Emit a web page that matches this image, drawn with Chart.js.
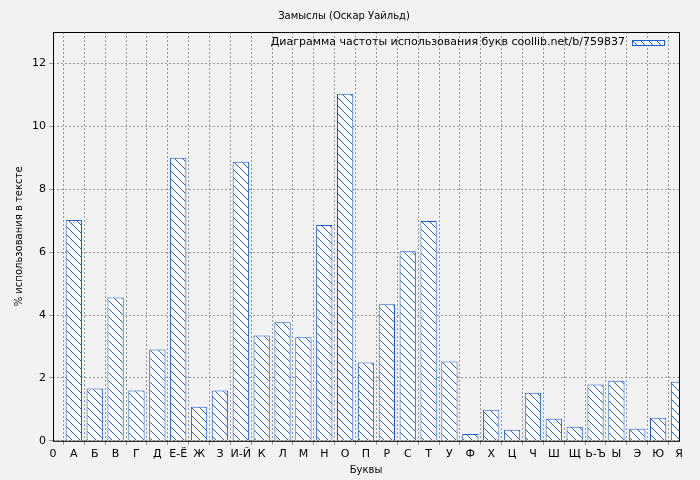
<!DOCTYPE html>
<html>
<head>
<meta charset="utf-8">
<script src="https://cdn.jsdelivr.net/npm/chart.js@4/dist/chart.umd.min.js"></script>
<style>
  html, body { margin: 0; background: #f2f2f2; }
  #wrap { width: 700px; height: 480px; }
</style>
</head>
<body>
<div id="wrap"><canvas id="chart" width="700" height="480"></canvas></div>
<script>
const letters = ['0', 'А', 'Б', 'В', 'Г', 'Д', 'Е-Ё', 'Ж', 'З', 'И-Й', 'К', 'Л', 'М', 'Н', 'О', 'П',
  'Р', 'С', 'Т', 'У', 'Ф', 'Х', 'Ц', 'Ч', 'Ш', 'Щ', 'Ь-Ъ', 'Ы', 'Э', 'Ю', 'Я'];
const percents = [null, 7.02, 1.66, 4.56, 1.6, 2.9, 9.0, 1.08, 1.6, 8.87, 3.35, 3.77, 3.29, 6.86, 11.04, 2.49,
  4.34, 6.03, 6.99, 2.52, 0.22, 0.99, 0.35, 1.53, 0.7, 0.45, 1.79, 1.91, 0.38, 0.73, 1.88];
const yTicks = [0, 2, 4, 6, 8, 10, 12];
const legendText = 'Диаграмма частоты использования букв coollib.net/b/759837';

// hatch pattern
function makeHatch() {
  const c = document.createElement('canvas');
  c.width = 8; c.height = 8;
  const g = c.getContext('2d');
  g.fillStyle = '#ffffff';
  g.fillRect(0, 0, 8, 8);
  g.strokeStyle = '#1f5fcf';
  g.lineWidth = 1;
  g.beginPath();
  g.moveTo(0, 0); g.lineTo(8, 8);
  g.moveTo(-1, 7); g.lineTo(1, 9);
  g.moveTo(7, -1); g.lineTo(9, 1);
  g.stroke();
  return g.createPattern(c, 'repeat');
}
const hatch = makeHatch();

const bgPlugin = {
  id: 'bg',
  beforeDraw(chart) {
    const { ctx } = chart;
    ctx.save();
    ctx.fillStyle = '#f2f2f2';
    ctx.fillRect(0, 0, chart.width, chart.height);
    ctx.restore();
  },
  afterDraw(chart) {
    const { ctx, chartArea: a } = chart;
    ctx.save();
    ctx.strokeStyle = '#000';
    ctx.lineWidth = 1;
    ctx.strokeRect(a.left + 0.5, a.top + 0.5, a.right - a.left, a.bottom - a.top);
    // legend
    ctx.font = '11px "DejaVu Sans"';
    ctx.fillStyle = '#000';
    ctx.textAlign = 'right';
    ctx.textBaseline = 'middle';
    ctx.fillText(legendText, a.right - 54, a.top + 10);
    ctx.fillStyle = hatch;
    ctx.fillRect(a.right - 47, a.top + 8, 32, 5);
    ctx.strokeStyle = '#1f5fcf';
    ctx.strokeRect(a.right - 47 + 0.5, a.top + 8 + 0.5, 32, 5);
    ctx.restore();
  }
};

new Chart(document.getElementById('chart'), {
  type: 'bar',
  data: {
    labels: letters,
    datasets: [{
      data: percents,
      backgroundColor: hatch,
      borderColor: '#1f5fcf',
      borderWidth: 1,
      barPercentage: 0.78,
      categoryPercentage: 1
    }]
  },
  options: {
    responsive: false,
    animation: false,
    layout: { padding: { left: 9, right: 21, top: 0, bottom: 4 } },
    plugins: {
      legend: { display: false },
      tooltip: { enabled: false },
      title: {
        display: true,
        text: 'Замыслы (Оскар Уайльд)',
        color: '#000',
        font: { family: 'DejaVu Sans', size: 10, weight: 'normal' },
        padding: { top: 10, bottom: 10 }
      }
    },
    scales: {
      x: {
        offset: false,
        grid: { color: '#999', tickLength: 4 },
        border: { display: false, dash: [2, 2] },
        ticks: { color: '#000', maxRotation: 0, autoSkip: false, font: { family: 'DejaVu Sans', size: 11 } },
        title: { display: true, text: 'Буквы', color: '#000', font: { family: 'DejaVu Sans', size: 10 }, padding: 0 }
      },
      y: {
        min: 0,
        max: 13,
        afterBuildTicks(axis) { axis.ticks = yTicks.map(v => ({ value: v })); },
        grid: { color: '#999', tickLength: 4 },
        border: { display: false, dash: [2, 2] },
        ticks: { color: '#000', font: { family: 'DejaVu Sans', size: 11 } },
        title: { display: true, text: '% использования в тексте', color: '#000', font: { family: 'DejaVu Sans', size: 10 } }
      }
    }
  },
  plugins: [bgPlugin]
});
</script>
</body>
</html>
